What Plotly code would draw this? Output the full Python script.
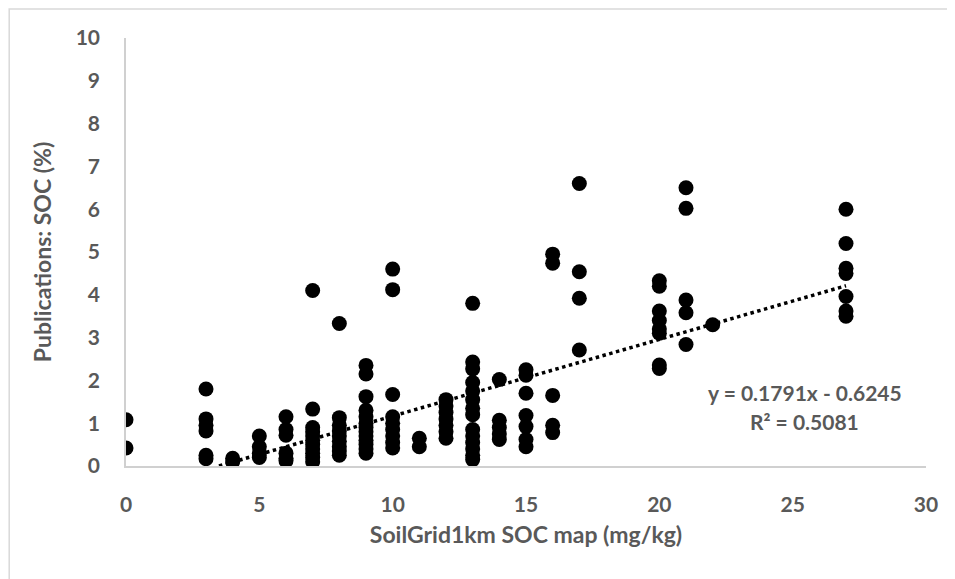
import plotly.graph_objects as go

# SoilGrid1km SOC map (mg/kg) values and Publications SOC (%) observed at each
grid_x = [0, 3, 4, 5, 6, 7, 8, 9, 10, 11, 12, 13, 14, 15, 16, 17, 20, 21, 22, 27]
soc_at_0 = [1.08, 0.42]
soc_at_3 = [1.8, 1.1, 0.95, 0.82, 0.25, 0.17]
soc_at_4 = [0.18, 0.1]
soc_at_5 = [0.7, 0.45, 0.3, 0.2]
soc_at_6 = [1.15, 0.85, 0.72, 0.3, 0.18, 0.12]
soc_at_7 = [4.1, 1.33, 0.9, 0.8, 0.7, 0.6, 0.5, 0.4, 0.3, 0.2, 0.1]
soc_at_8 = [3.33, 1.13, 0.95, 0.82, 0.7, 0.58, 0.45, 0.35, 0.25]
soc_at_9 = [2.35, 2.15, 1.62, 1.3, 1.15, 1.0, 0.9, 0.8, 0.7, 0.6, 0.5, 0.4, 0.3]
soc_at_10 = [4.6, 4.12, 1.67, 1.15, 1.0, 0.85, 0.7, 0.55, 0.42]
soc_at_11 = [0.65, 0.45]
soc_at_12 = [1.55, 1.4, 1.25, 1.1, 0.95, 0.8, 0.65]
soc_at_13 = [3.8, 2.43, 2.27, 1.95, 1.75, 1.55, 1.35, 1.2, 0.85, 0.7, 0.55, 0.4, 0.25, 0.15]
soc_at_14 = [2.02, 1.07, 0.9, 0.75, 0.62]
soc_at_15 = [2.25, 2.12, 1.7, 1.18, 0.92, 0.62, 0.45]
soc_at_16 = [4.95, 4.74, 1.65, 0.95, 0.78]
soc_at_17 = [6.6, 4.54, 3.92, 2.71]
soc_at_20 = [4.33, 4.2, 3.62, 3.4, 3.2, 3.1, 2.36, 2.28]
soc_at_21 = [6.5, 6.02, 3.88, 3.58, 2.84]
soc_at_22 = [3.3]
soc_at_27 = [6.0, 5.2, 4.62, 4.5, 3.96, 3.62, 3.5]

soc_groups = [soc_at_0, soc_at_3, soc_at_4, soc_at_5, soc_at_6, soc_at_7, soc_at_8,
              soc_at_9, soc_at_10, soc_at_11, soc_at_12, soc_at_13, soc_at_14,
              soc_at_15, soc_at_16, soc_at_17, soc_at_20, soc_at_21, soc_at_22, soc_at_27]

# Trendline (from the chart's equation)
slope = 0.1791
intercept = -0.6245
r_squared = 0.5081

x_ticks = [0, 5, 10, 15, 20, 25, 30]
y_ticks = [0, 1, 2, 3, 4, 5, 6, 7, 8, 9, 10]

xs, ys = [], []
for gx, grp in zip(grid_x, soc_groups):
    for v in grp:
        xs.append(gx)
        ys.append(v)

x_start = -intercept / slope
x_end = max(grid_x)
trend_x = [x_start, x_end]
trend_y = [slope * x_start + intercept, slope * x_end + intercept]

FONT = "Lato"
GRAY = "#595959"

fig = go.Figure()
fig.add_trace(go.Scatter(
    x=trend_x, y=trend_y, mode="lines",
    line=dict(color="black", width=3.5, dash="dot"),
    showlegend=False, hoverinfo="skip"))
fig.add_trace(go.Scatter(
    x=xs, y=ys, mode="markers",
    marker=dict(color="black", size=15),
    showlegend=False))

fig.update_layout(
    width=947, height=571,
    margin=dict(l=118, r=29, t=30, b=113),
    plot_bgcolor="white", paper_bgcolor="white",
    font=dict(family=FONT, color=GRAY),
    xaxis=dict(range=[0, 30], tickvals=x_ticks, showgrid=False, zeroline=False,
               showline=True, linecolor="#d0d0d0", linewidth=1.5,
               ticks="", ticklabelstandoff=19,
               tickfont=dict(family=FONT, size=21, color=GRAY, weight="bold"),
               title=dict(text="SoilGrid1km SOC map (mg/kg)", standoff=12,
                          font=dict(family=FONT, size=23, color=GRAY, weight="bold"))),
    yaxis=dict(range=[0, 10], tickvals=y_ticks, showgrid=False, zeroline=False,
               showline=True, linecolor="#d0d0d0", linewidth=1.5,
               ticks="", ticklabelstandoff=20,
               tickfont=dict(family=FONT, size=21, color=GRAY, weight="bold"),
               title=dict(text="Publications: SOC (%)", standoff=18,
                          font=dict(family=FONT, size=23, color=GRAY, weight="bold"))),
    annotations=[
        dict(x=25.45, y=1.72, xref="x", yref="y",
             text=f"y = {slope}x - {abs(intercept)}", showarrow=False,
             font=dict(family=FONT, size=21, color=GRAY, weight="bold")),
        dict(x=25.45, y=1.03, xref="x", yref="y",
             text=f"R² = {r_squared}", showarrow=False,
             font=dict(family=FONT, size=21, color=GRAY, weight="bold")),
    ],
    shapes=[dict(type="rect", xref="paper", yref="paper",
                 x0=-0.146, x1=1.1, y0=-0.3, y1=1.068,
                 line=dict(color="#d9d9d9", width=1.5), layer="below")],
)

fig.write_html("out.html")
